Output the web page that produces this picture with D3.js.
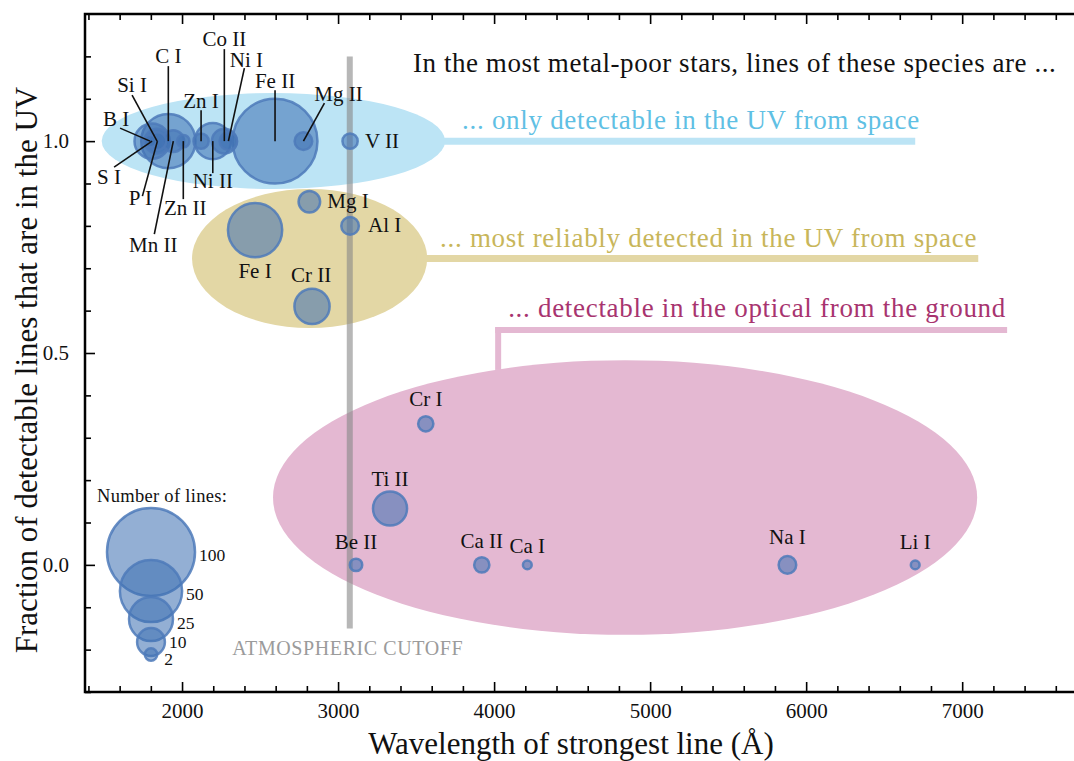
<!DOCTYPE html>
<html>
<head>
<meta charset="utf-8">
<script src="https://cdn.jsdelivr.net/npm/d3@7"></script>
<style>
  body { margin: 0; background: #fff; }
  svg { display: block; }
  text { font-family: "Liberation Serif", "Times New Roman", serif; }
</style>
</head>
<body>
<svg id="chart" width="1074" height="761"></svg>
<script>
// ---- Data -------------------------------------------------------------
const species = ["B I", "S I", "Si I", "P I", "C I", "Mn II", "Zn II", "Zn I", "Ni II", "Co II", "Ni I", "Fe II", "Mg II", "V II",
                 "Mg I", "Al I", "Fe I", "Cr II",
                 "Cr I", "Ti II", "Be II", "Ca II", "Ca I", "Na I", "Li I"];
// wavelength of strongest line (Angstrom)
const wavelength = [1795, 1808, 1840, 1842, 1912, 1944, 2008, 2122, 2197, 2271, 2297, 2596, 2778, 3077,
                    2816, 3077, 2468, 2833,
                    3562, 3333, 3115, 3921, 4213, 5880, 6699];
// fraction of detectable lines that are in the UV
const uvFraction = [1, 1, 1, 1, 1, 1, 1, 1, 1, 1, 1, 1, 1, 1,
                    0.857, 0.8, 0.79, 0.61,
                    0.333, 0.133, 0, 0, 0, 0, 0];
// number of detectable lines
const lineCount = [2, 16, 8, 4, 38, 6, 2, 3, 17, 8, 4, 93, 4, 3,
                   6, 4, 38, 16,
                   3, 15, 2, 3, 1, 4, 1];

const xTickValues = [2000, 3000, 4000, 5000, 6000, 7000];
const yTickValues = [0, 0.5, 1.0];
const legendCounts = [100, 50, 25, 10, 2];
const cutoffWavelength = 3075;

// ---- Layout -----------------------------------------------------------
const plot = { left: 85, right: 1087, top: 14, bottom: 692 };

const svg = d3.select("#chart");

const x = d3.scaleLinear().domain([1378, 7800]).range([plot.left, plot.right]);
const y = d3.scaleLinear().domain([-0.3, 1.3]).range([plot.bottom, plot.top]);
const r = d3.scaleSqrt().domain([0, 100]).range([0, 44]);

// shaded groups: extents in data units, with their captions and connectors
const regions = [
  { fill: "#bce4f5", textFill: "#5fc0e4",
    text: "... only detectable in the UV from space",
    ell: [1485, 3686, 0.887, 1.1136],
    lines: [[[3600, 1.0], [6699, 1.0]]], lw: 7,
    textAt: [3795, 1.028] },
  { fill: "#e3d7a5", textFill: "#c8b65a",
    text: "... most reliably detected in the UV from space",
    ell: [2064, 3571, 0.559, 0.887],
    lines: [[[3500, 0.723], [7103, 0.723]]], lw: 7,
    textAt: [3654, 0.750] },
  { fill: "#e4b8d2", textFill: "#a8346f",
    text: "... detectable in the optical from the ground",
    ell: [2583, 7096, -0.165, 0.483],
    lines: [[[4007, 0.554], [7288, 0.554]], [[4026, 0.561], [4026, 0.46]]], lw: 6,
    textAt: [4090, 0.585] }
];

// label placement relative to each bubble centre (pixels); lead = start of leader line
const labelLayout = {
  "B I":   { dx: -34, dy: -15, lead: [-30, -13] },
  "S I":   { dx: -43, dy: 43,  lead: [-38, 26] },
  "Si I":  { dx: -25, dy: -49, lead: [-25, -46] },
  "P I":   { dx: -17, dy: 64,  lead: [-15, 55] },
  "C I":   { dx: 0,   dy: -78, lead: [0, -75] },
  "Mn II": { dx: -20, dy: 111, lead: [-19, 93] },
  "Zn II": { dx: 2,   dy: 74,  lead: [0, 58] },
  "Zn I":  { dx: 0,   dy: -33, lead: [0, -31] },
  "Ni II": { dx: 0,   dy: 47,  lead: [0, 32] },
  "Co II": { dx: 0,   dy: -95, lead: [0, -92] },
  "Ni I":  { dx: 18,  dy: -74, lead: [16, -73] },
  "Fe II": { dx: 0,   dy: -53, lead: [0, -51] },
  "Mg II": { dx: 35,  dy: -40, lead: [21, -38] },
  "V II":  { dx: 15,  dy: 7,  anchor: "start" },
  "Mg I":  { dx: 18,  dy: 6,  anchor: "start" },
  "Al I":  { dx: 18,  dy: 6,  anchor: "start" },
  "Fe I":  { dx: 0,   dy: 48 },
  "Cr II": { dx: -1,  dy: -24 },
  "Cr I":  { dx: 0,   dy: -18 },
  "Ti II": { dx: 0,   dy: -23 },
  "Be II": { dx: 0,   dy: -16 },
  "Ca II": { dx: 0,   dy: -17 },
  "Ca I":  { dx: 0,   dy: -12 },
  "Na I":  { dx: 0,   dy: -21 },
  "Li I":  { dx: 0,   dy: -16 }
};

const bubbleFill = "rgba(62,112,178,0.56)";
const bubbleStroke = "rgba(78,122,186,0.85)";

// ---- Shaded regions ---------------------------------------------------
const regionG = svg.append("g");
regions.forEach(g => {
  const [x0, x1, y0, y1] = g.ell;
  regionG.append("ellipse")
    .attr("cx", (x(x0) + x(x1)) / 2).attr("cy", (y(y0) + y(y1)) / 2)
    .attr("rx", (x(x1) - x(x0)) / 2).attr("ry", (y(y0) - y(y1)) / 2)
    .attr("fill", g.fill);
  g.lines.forEach(seg => {
    regionG.append("line")
      .attr("x1", x(seg[0][0])).attr("y1", y(seg[0][1]))
      .attr("x2", x(seg[1][0])).attr("y2", y(seg[1][1]))
      .attr("stroke", g.fill).attr("stroke-width", g.lw);
  });
  regionG.append("text")
    .attr("x", x(g.textAt[0])).attr("y", y(g.textAt[1]))
    .attr("font-size", 27).attr("letter-spacing", 0.7)
    .attr("fill", g.textFill).text(g.text);
});

// ---- Atmospheric cutoff ----------------------------------------------
svg.append("line")
  .attr("x1", x(cutoffWavelength)).attr("x2", x(cutoffWavelength))
  .attr("y1", y(1.2)).attr("y2", y(-0.15))
  .attr("stroke", "rgba(135,135,135,0.6)").attr("stroke-width", 6);
svg.append("text")
  .attr("x", x(cutoffWavelength) - 2).attr("y", 655)
  .attr("text-anchor", "middle").attr("font-size", 20).attr("letter-spacing", 0.6)
  .attr("fill", "#9b9b9b").text("ATMOSPHERIC CUTOFF");

// ---- Bubbles -------------------------------------------------------------
const points = species.map((s, i) => ({ s, w: wavelength[i], f: uvFraction[i], n: lineCount[i] }));

svg.append("g").selectAll("circle")
  .data(points.slice().sort((a, b) => b.n - a.n))
  .join("circle")
  .attr("cx", d => x(d.w)).attr("cy", d => y(d.f)).attr("r", d => r(d.n))
  .attr("fill", bubbleFill).attr("stroke", bubbleStroke).attr("stroke-width", 2.5);

// leader lines and labels
const labG = svg.append("g");
points.forEach(d => {
  const L = labelLayout[d.s];
  const cx = x(d.w), cy = y(d.f);
  if (L.lead) {
    labG.append("line")
      .attr("x1", cx + L.lead[0]).attr("y1", cy + L.lead[1])
      .attr("x2", cx).attr("y2", cy)
      .attr("stroke", "#111").attr("stroke-width", 1.6);
  }
  labG.append("text")
    .attr("x", cx + L.dx).attr("y", cy + L.dy)
    .attr("text-anchor", L.anchor || "middle")
    .attr("font-size", 21).attr("fill", "#111").text(d.s);
});

// ---- Size legend -------------------------------------------------------
const legendX = 151;
const legendCy = [552, 591, 619, 642, 654.5];
const legendLabelDy = [9, 9, 10, 6, 10];
svg.append("text").attr("x", 97).attr("y", 502)
  .attr("font-size", 18.5).attr("letter-spacing", 0.3).attr("fill", "#111")
  .text("Number of lines:");
const legG = svg.append("g");
legendCounts.forEach((n, i) => {
  legG.append("circle")
    .attr("cx", legendX).attr("cy", legendCy[i]).attr("r", r(n))
    .attr("fill", bubbleFill).attr("stroke", bubbleStroke).attr("stroke-width", 2.5);
});
legendCounts.forEach((n, i) => {
  legG.append("text")
    .attr("x", legendX + r(n) + (n < 5 ? 7 : 4)).attr("y", legendCy[i] + legendLabelDy[i])
    .attr("font-size", 17.5).attr("fill", "#111").text(n);
});

// ---- Axes --------------------------------------------------------------
const minorX = d3.range(1400, 7801, 200).filter(v => v % 1000 !== 0);
const minorY = d3.range(-3, 13).map(v => v / 10).filter(v => Math.abs(v * 2 - Math.round(v * 2)) > 1e-9);

function styleAxis(g) {
  g.select(".domain").remove();
  g.selectAll(".tick line").attr("stroke", "#000").attr("stroke-width", 1.6);
  g.selectAll(".tick text").attr("font-family", "Liberation Serif, serif").attr("font-size", 21).attr("fill", "#111");
}

svg.append("g").attr("transform", `translate(0,${plot.bottom})`)
  .call(d3.axisBottom(x).tickValues(xTickValues).tickSize(-10).tickPadding(11).tickFormat(d3.format("d")))
  .call(styleAxis);
svg.append("g").attr("transform", `translate(0,${plot.bottom})`)
  .call(d3.axisBottom(x).tickValues(minorX).tickSize(-6).tickFormat(""))
  .call(styleAxis);
svg.append("g").attr("transform", `translate(0,${plot.top})`)
  .call(d3.axisTop(x).tickValues(xTickValues).tickSize(-10).tickFormat(""))
  .call(styleAxis);
svg.append("g").attr("transform", `translate(0,${plot.top})`)
  .call(d3.axisTop(x).tickValues(minorX).tickSize(-6).tickFormat(""))
  .call(styleAxis);
svg.append("g").attr("transform", `translate(${plot.left},0)`)
  .call(d3.axisLeft(y).tickValues(yTickValues).tickSize(-10).tickPadding(16).tickFormat(d3.format(".1f")))
  .call(styleAxis);
svg.append("g").attr("transform", `translate(${plot.left},0)`)
  .call(d3.axisLeft(y).tickValues(minorY).tickSize(-6).tickFormat(""))
  .call(styleAxis);

// frame
svg.append("rect")
  .attr("x", plot.left).attr("y", plot.top)
  .attr("width", plot.right - plot.left).attr("height", plot.bottom - plot.top)
  .attr("fill", "none").attr("stroke", "#000").attr("stroke-width", 2.5);

// ---- Titles --------------------------------------------------------------
svg.append("text").attr("x", 413).attr("y", 72)
  .attr("font-size", 27).attr("letter-spacing", 0.55).attr("fill", "#111")
  .text("In the most metal-poor stars, lines of these species are ...");

svg.append("text").attr("x", 571).attr("y", 754)
  .attr("text-anchor", "middle").attr("font-size", 31).attr("fill", "#111")
  .text("Wavelength of strongest line (Å)");

svg.append("text")
  .attr("transform", `translate(37,370) rotate(-90)`)
  .attr("text-anchor", "middle").attr("font-size", 31).attr("fill", "#111")
  .text("Fraction of detectable lines that are in the UV");
</script>
</body>
</html>
